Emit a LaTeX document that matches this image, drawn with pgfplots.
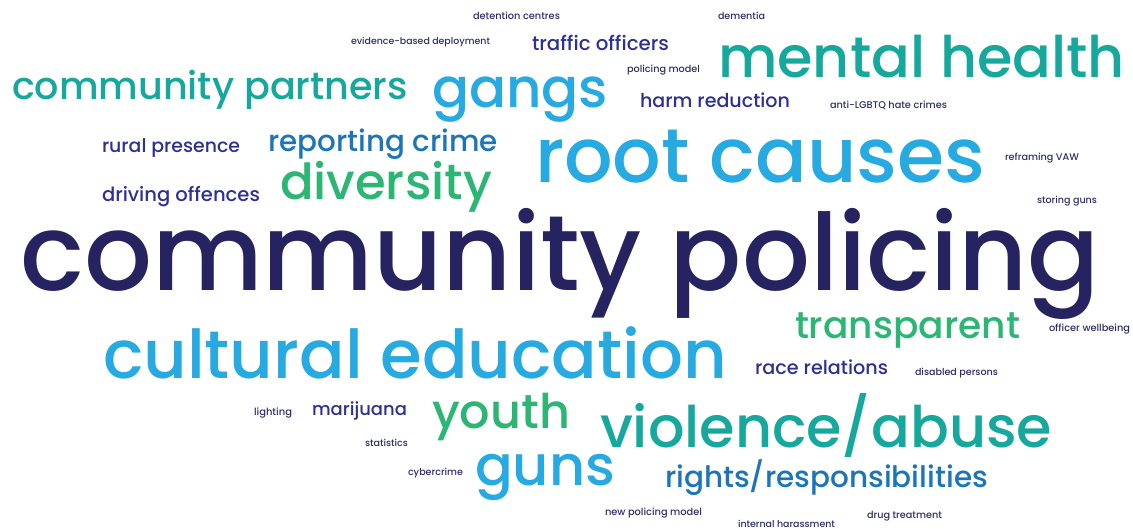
\documentclass[border=0pt]{standalone}
\usepackage{fontspec}
\setmainfont{Poppins}[UprightFont=* Medium]
\usepackage{graphicx}
\usepackage{pgfplots}
\usepackage{pgfplotstable}
\pgfplotsset{compat=1.18}
\definecolor{cnavy}{HTML}{272361}
\definecolor{cdark}{HTML}{2E3192}
\definecolor{cmed}{HTML}{1B75BB}
\definecolor{clight}{HTML}{27AAE1}
\definecolor{cteal}{HTML}{16A89C}
\definecolor{cgreen}{HTML}{2BB673}
\definecolor{csmall}{HTML}{2E2D6B}
% x = left edge, y = baseline (pixels from top), w = width of the word
\pgfplotstableread[col sep=comma]{
x,y,w,label
20,290,1080,community policing
}\navywords
\pgfplotstableread[col sep=comma]{
x,y,w,label
535,183,450,root causes
103,378,624,cultural education
432,108,176,gangs
475,485,140,guns
}\lightwords
\pgfplotstableread[col sep=comma]{
x,y,w,label
718,78,407,mental health
600,447,452,violence/abuse
12,100,396,community partners
}\tealwords
\pgfplotstableread[col sep=comma]{
x,y,w,label
432,428,138,youth
280,200,212,diversity
795,338,225,transparent
}\greenwords
\pgfplotstableread[col sep=comma]{
x,y,w,label
268,152,230,reporting crime
665,487,323,rights/responsibilities
}\medwords
\pgfplotstableread[col sep=comma]{
x,y,w,label
532,51,137,traffic officers
640,108,150,harm reduction
102,153,138,rural presence
102,202,158,driving offences
755,375,133,race relations
312,415,95,marijuana
}\darkwords
\pgfplotstableread[col sep=comma]{
x,y,w,label
473,20,87,detention centres
718,20,47,dementia
351,45,139,evidence-based deployment
627,73,73,policing model
830,109,117,anti-LGBTQ hate crimes
1005,161,74,reframing VAW
1037,204,60,storing guns
1049,332,81,officer wellbeing
915,375,83,disabled persons
254,415,38,lighting
365,446,43,statistics
408,475,55,cybercrime
605,515,97,new policing model
867,518,75,drug treatment
738,527,97,internal harassment
}\smallwords
\begin{document}
\begin{tikzpicture}
\begin{axis}[
  scale only axis, width=1133pt, height=529pt,
  xmin=0, xmax=1133, ymin=0, ymax=529, y dir=reverse,
  hide axis, clip=false,
  visualization depends on={\thisrow{w}\as\ww},
  point meta=explicit symbolic,
  nodes near coords={\resizebox{\ww pt}{!}{\pgfplotspointmeta}},
  every node near coord/.append style={anchor=base west, inner sep=0pt, outer sep=0pt},
]
\addplot[draw=none, mark=none, every node near coord/.append style={text=cnavy}] table[x=x, y=y, meta=label] {\navywords};
\addplot[draw=none, mark=none, every node near coord/.append style={text=clight}] table[x=x, y=y, meta=label] {\lightwords};
\addplot[draw=none, mark=none, every node near coord/.append style={text=cteal}] table[x=x, y=y, meta=label] {\tealwords};
\addplot[draw=none, mark=none, every node near coord/.append style={text=cgreen}] table[x=x, y=y, meta=label] {\greenwords};
\addplot[draw=none, mark=none, every node near coord/.append style={text=cmed}] table[x=x, y=y, meta=label] {\medwords};
\addplot[draw=none, mark=none, every node near coord/.append style={text=cdark}] table[x=x, y=y, meta=label] {\darkwords};
\addplot[draw=none, mark=none, every node near coord/.append style={text=csmall}] table[x=x, y=y, meta=label] {\smallwords};
\end{axis}
\pgfresetboundingbox
\useasboundingbox (0,0) rectangle (1133pt,529pt);
\end{tikzpicture}
\end{document}
